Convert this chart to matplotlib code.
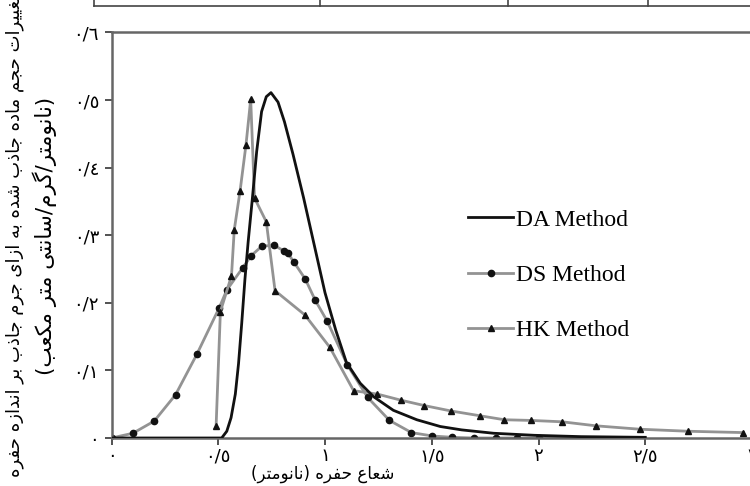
import matplotlib
matplotlib.use("Agg")
import matplotlib.pyplot as plt
from matplotlib.lines import Line2D

# pore radius (nm) vs volume change
da_x = [0, 0.516, 0.54, 0.56, 0.58, 0.595, 0.61, 0.625, 0.64, 0.66, 0.68, 0.703,
        0.725, 0.747, 0.78, 0.81, 0.85, 0.90, 0.95, 1.0, 1.05, 1.10, 1.165, 1.228,
        1.32, 1.43, 1.54, 1.64, 1.79, 1.98, 2.2, 2.5]
da_y = [0, 0, 0.01, 0.03, 0.065, 0.11, 0.17, 0.235, 0.29, 0.355, 0.424, 0.483,
        0.505, 0.511, 0.497, 0.468, 0.42, 0.355, 0.285, 0.215, 0.16, 0.112, 0.081, 0.061,
        0.041, 0.027, 0.017, 0.012, 0.007, 0.004, 0.002, 0.001]

ds_x = [0, 0.1, 0.2, 0.3, 0.4, 0.505, 0.54, 0.615, 0.655, 0.705, 0.762, 0.807,
        0.827, 0.855, 0.908, 0.954, 1.01, 1.105, 1.2, 1.302, 1.405, 1.502, 1.597,
        1.697, 1.803, 1.9, 2.0, 2.5]
ds_y = [0, 0.007, 0.025, 0.064, 0.124, 0.193, 0.219, 0.252, 0.27, 0.284, 0.285, 0.277,
        0.273, 0.26, 0.235, 0.204, 0.173, 0.108, 0.06, 0.026, 0.008, 0.003, 0.001,
        0, 0, 0, 0, 0]

hk_x = [0.49, 0.51, 0.562, 0.575, 0.602, 0.63, 0.652, 0.67, 0.725, 0.766, 0.906,
        1.023, 1.134, 1.245, 1.355, 1.465, 1.59, 1.724, 1.84, 1.965, 2.11, 2.27,
        2.474, 2.7, 2.96]
hk_y = [0.018, 0.187, 0.24, 0.308, 0.365, 0.434, 0.501, 0.355, 0.32, 0.218, 0.182,
        0.134, 0.07, 0.065, 0.056, 0.048, 0.04, 0.033, 0.027, 0.026, 0.024, 0.018,
        0.013, 0.010, 0.008]

x_ticks = [0, 0.5, 1, 1.5, 2, 2.5, 3]
x_labels = ["٠", "٠/٥", "١", "١/٥", "٢", "٢/٥", "٣"]
y_ticks = [0, 0.1, 0.2, 0.3, 0.4, 0.5, 0.6]
y_labels = ["٠", "٠/١", "٠/٢", "٠/٣", "٠/٤", "٠/٥", "٠/٦"]

ylabel1 = "تغییرات حجم ماده جاذب شده به ازای جرم جاذب بر اندازه حفره"
ylabel2 = "(نانومتر/گرم/سانتی متر مکعب)"
xlabel = "شعاع حفره (نانومتر)"

# matplotlib has no arabic shaping, so pick presentation forms by hand
# (isolated, final, initial, medial)
FORMS = {
    'ا': ('\uFE8D', '\uFE8E', None, None),
    'ب': ('\uFE8F', '\uFE90', '\uFE91', '\uFE92'),
    'ت': ('\uFE95', '\uFE96', '\uFE97', '\uFE98'),
    'ج': ('\uFE9D', '\uFE9E', '\uFE9F', '\uFEA0'),
    'ح': ('\uFEA1', '\uFEA2', '\uFEA3', '\uFEA4'),
    'د': ('\uFEA9', '\uFEAA', None, None),
    'ذ': ('\uFEAB', '\uFEAC', None, None),
    'ر': ('\uFEAD', '\uFEAE', None, None),
    'ز': ('\uFEAF', '\uFEB0', None, None),
    'س': ('\uFEB1', '\uFEB2', '\uFEB3', '\uFEB4'),
    'ش': ('\uFEB5', '\uFEB6', '\uFEB7', '\uFEB8'),
    'ع': ('\uFEC9', '\uFECA', '\uFECB', '\uFECC'),
    'غ': ('\uFECD', '\uFECE', '\uFECF', '\uFED0'),
    'ف': ('\uFED1', '\uFED2', '\uFED3', '\uFED4'),
    'م': ('\uFEE1', '\uFEE2', '\uFEE3', '\uFEE4'),
    'ن': ('\uFEE5', '\uFEE6', '\uFEE7', '\uFEE8'),
    'ه': ('\uFEE9', '\uFEEA', '\uFEEB', '\uFEEC'),
    'و': ('\uFEED', '\uFEEE', None, None),
    'ک': ('\uFB8E', '\uFB8F', '\uFB90', '\uFB91'),
    'گ': ('\uFB92', '\uFB93', '\uFB94', '\uFB95'),
    'ی': ('\uFBFC', '\uFBFD', '\uFBFE', '\uFBFF'),
}


def shape(text):
    out = []
    for i, ch in enumerate(text):
        if ch not in FORMS:
            out.append(ch)
            continue
        f = FORMS[ch]
        prev = text[i - 1] if i > 0 else ''
        nxt = text[i + 1] if i + 1 < len(text) else ''
        join_prev = prev in FORMS and FORMS[prev][2] is not None
        join_next = f[2] is not None and nxt in FORMS
        if join_prev and join_next:
            out.append(f[3])
        elif join_prev:
            out.append(f[1])
        elif join_next:
            out.append(f[2])
        else:
            out.append(f[0])
    vis = ''.join(reversed(out))
    return vis.translate(str.maketrans('()', ')('))


fig = plt.figure(figsize=(7.5, 4.86), dpi=100)
ax = fig.add_axes([111.5 / 750, 48 / 486, 640.5 / 750, 405.5 / 486])

grey = '#939393'
ax.plot(da_x, da_y, color='#111111', lw=2.0, label='DA Method', zorder=3)
ax.plot(ds_x, ds_y, color=grey, lw=2.0, marker='o', ms=4.5, mfc='#111111',
        mec='#111111', markevery=list(range(len(ds_x) - 1)), label='DS Method', zorder=2)
ax.plot(hk_x, hk_y, color=grey, lw=2.0, marker='^', ms=4.5, mfc='#111111',
        mec='#111111', label='HK Method', zorder=2)

ax.set_xlim(0, 3)
ax.set_ylim(0, 0.6)
ax.set_xticks(x_ticks)
ax.set_xticklabels(x_labels, fontsize=13, family='DejaVu Sans')
ax.set_yticks(y_ticks)
ax.set_yticklabels(y_labels, fontsize=13, family='DejaVu Sans')
ax.tick_params(length=5, width=1.3, color='#444444', pad=4)
ax.tick_params(axis='x', pad=1.5)

for side in ['left', 'bottom', 'top']:
    ax.spines[side].set_color('#666666')
    ax.spines[side].set_linewidth(1.8)
ax.spines['right'].set_visible(False)

leg = ax.legend(loc='upper left', bbox_to_anchor=(0.542, 0.588), frameon=False,
                prop={'family': 'Liberation Serif', 'size': 17},
                handlelength=1.9, handletextpad=0.15, labelspacing=1.43,
                numpoints=1, borderaxespad=0)

fig.text(323 / 750, 1 - 474 / 486, shape(xlabel), ha='center', va='center',
         fontsize=12, family='DejaVu Sans')
fig.text(15 / 750, 1 - 236 / 486, shape(ylabel1), ha='center', va='center',
         rotation=90, fontsize=13, family='DejaVu Sans')
fig.text(45 / 750, 1 - 236 / 486, shape(ylabel2), ha='center', va='center',
         rotation=90, fontsize=15.5, family='DejaVu Sans')

# edge of the table above the figure in the scan
fig.add_artist(Line2D([94 / 750, 1], [1 - 6 / 486] * 2, color='#444444', lw=1.2))
for xp in [94, 320, 508, 648]:
    fig.add_artist(Line2D([xp / 750] * 2, [1 - 6 / 486, 1], color='#444444', lw=1.2))

fig.savefig('out.png', dpi=100)
